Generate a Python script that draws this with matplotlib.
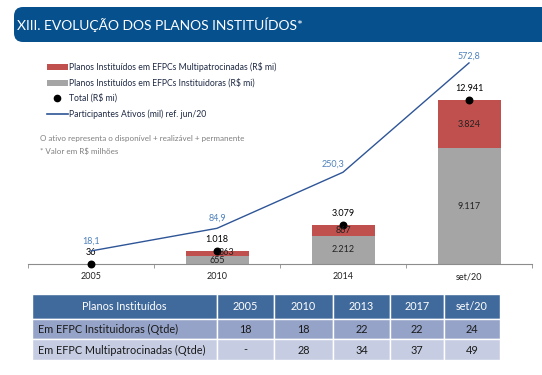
import matplotlib.pyplot as plt
from matplotlib.patches import FancyBboxPatch, Rectangle

# ---------------------------------------------------------------------
# data
# ---------------------------------------------------------------------
categories = ["2005", "2010", "2014", "set/20"]
instituidoras = [36, 655, 2212, 9117]          # R$ mi, gray
multipatrocinadas = [0, 363, 867, 3824]        # R$ mi, red
totals = [36, 1018, 3079, 12941]               # R$ mi
participantes = [18.1, 84.9, 250.3, 572.8]     # mil

table_cols = ["Planos Instituídos", "2005", "2010", "2013", "2017", "set/20"]
table_row_labels = ["Em EFPC Instituidoras (Qtde)", "Em EFPC Multipatrocinadas (Qtde)"]
table_inst = ["18", "18", "22", "22", "24"]
table_multi = ["-", "28", "34", "37", "49"]

RED = "#C0504D"
GRAY = "#A5A5A5"
LINE = "#2E5597"
LINE_LBL = "#4F81BD"
FONT = ["Lato", "DejaVu Sans"]

plt.rcParams["font.family"] = FONT


def fmt_br(v):
    return f"{v:,.0f}".replace(",", ".")


def fmt_dec(v):
    return f"{v:.1f}".replace(".", ",")


W, H = 542, 375
fig = plt.figure(figsize=(W / 100, H / 100), dpi=100)

# overlay in pixel coords for title bar, legend and table
bg = fig.add_axes([0, 0, 1, 1], zorder=0)
bg.set_xlim(0, W)
bg.set_ylim(H, 0)
bg.axis("off")

bg.add_patch(FancyBboxPatch((14, 7), 540, 35, boxstyle="round,pad=0,rounding_size=9",
                            facecolor="#07508E", edgecolor="none"))
bg.text(17, 25, "XIII. EVOLUÇÃO DOS PLANOS INSTITUÍDOS*", color="white",
        fontsize=10, va="center", ha="left")

# legend
bg.add_patch(Rectangle((47, 63.5), 21, 6, facecolor=RED, edgecolor="none"))
bg.add_patch(Rectangle((47, 79.5), 21, 6, facecolor=GRAY, edgecolor="none"))
bg.plot([57], [98], "o", color="black", ms=4.5)
bg.plot([47, 68], [114, 114], color=LINE, lw=1.2)
leg_txt = ["Planos Instituídos em EFPCs Multipatrocinadas (R$ mi)",
           "Planos Instituídos em EFPCs Instituidoras (R$ mi)",
           "Total (R$ mi)",
           "Participantes Ativos (mil) ref. jun/20"]
for t, y in zip(leg_txt, [66.5, 82.5, 98, 114]):
    bg.text(69, y, t, fontsize=6.2, va="center", ha="left", color="#1F2A44")
bg.text(40, 139, "O ativo representa o disponível + realizável + permanente",
        fontsize=5.8, va="center", color="#7F7F7F")
bg.text(40, 151, "* Valor em R$ milhões", fontsize=5.8, va="center", color="#7F7F7F")

# ---------------------------------------------------------------------
# chart
# ---------------------------------------------------------------------
base_y, top_y = 264, 45
ax = fig.add_axes([28 / W, (H - base_y) / H, 504 / W, (base_y - top_y) / H], zorder=2)
ax.patch.set_alpha(0)
x = list(range(len(categories)))

ax.bar(x, instituidoras, width=0.5, color=GRAY, zorder=2)
ax.bar(x, multipatrocinadas, width=0.5, bottom=instituidoras, color=RED, zorder=2)
ax.scatter(x, totals, s=22, color="black", zorder=5, clip_on=False)

ax.set_xlim(-0.5, 3.5)
ax.set_ylim(0, 17280)
for s in ["top", "right", "left"]:
    ax.spines[s].set_visible(False)
ax.spines["bottom"].set_color("#8C8C8C")
ax.set_yticks([])
ax.set_xticks(x)
ax.set_xticklabels(categories, fontsize=6.5, color="#222222")
ax.tick_params(axis="x", which="major", length=0, pad=6)
ax.set_xticks([-0.5, 0.5, 1.5, 2.5, 3.5], minor=True)
ax.tick_params(axis="x", which="minor", length=3, color="#8C8C8C", direction="out")

# segment labels
for i in range(1, len(categories)):
    ax.annotate(fmt_br(instituidoras[i]), (i, instituidoras[i] / 2),
                xytext=(0, -1 if i == 1 else 0), textcoords="offset pixels",
                ha="center", va="center", fontsize=6.5, color="#222222", zorder=6)
    dx = 10 if i == 1 else 0
    ax.annotate(fmt_br(multipatrocinadas[i]), (i, instituidoras[i] + multipatrocinadas[i] / 2),
                xytext=(dx, 1 if i == 1 else 0), textcoords="offset pixels",
                ha="center", va="center", fontsize=6.5, color="#222222", zorder=6)

# total labels
for i, t in enumerate(totals):
    ax.annotate(fmt_br(t), (i, t), xytext=(0, 11.5), textcoords="offset pixels",
                ha="center", va="center", fontsize=6.5, color="black", zorder=6)

# participants line on secondary scale
ax2 = ax.twinx()
ax2.plot(x, participantes, color=LINE, lw=1.0, zorder=3)
ax2.set_ylim(-20.4, 625.7)
ax2.axis("off")
offsets = [(0, 10), (0, 10), (-10, 8), (0, 7)]
for i, (v, off) in enumerate(zip(participantes, offsets)):
    ax2.annotate(fmt_dec(v), (i, v), xytext=off, textcoords="offset pixels",
                 ha="center", va="center", fontsize=6.5, color=LINE_LBL)

# ---------------------------------------------------------------------
# table
# ---------------------------------------------------------------------
col_edges = [32, 217, 274, 333, 390, 444, 500]
row_edges = [294, 319, 339, 360]
row_colors = ["#416A9C", "#95A3C8", "#C6CDE3"]
rows = [table_cols, [table_row_labels[0]] + table_inst, [table_row_labels[1]] + table_multi]
for r, cells in enumerate(rows):
    y0, y1 = row_edges[r], row_edges[r + 1]
    for c, txt in enumerate(cells):
        x0, x1 = col_edges[c], col_edges[c + 1]
        bg.add_patch(Rectangle((x0, y0), x1 - x0, y1 - y0, facecolor=row_colors[r],
                               edgecolor="white", lw=1.0))
        color = "white" if r == 0 else "#1A1A1A"
        if c == 0 and r > 0:
            bg.text(x0 + 6, (y0 + y1) / 2 + 0.5, txt, ha="left", va="center",
                    fontsize=7.8, color=color)
        else:
            bg.text((x0 + x1) / 2, (y0 + y1) / 2 + 0.5, txt, ha="center", va="center",
                    fontsize=7.8, color=color)

fig.savefig("out.png", dpi=100, facecolor="white")
